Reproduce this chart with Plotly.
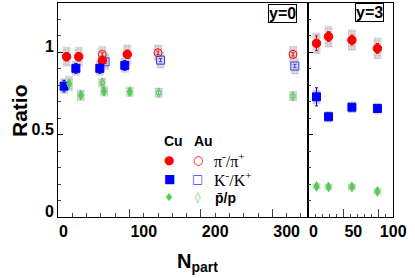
import plotly.graph_objects as go

# ---------------- data ----------------
# y = 0 panel, Cu+Cu (filled)
npart_cu_pi = [12, 29, 62, 97]
npart_cu_k = [8.5, 25, 58.5, 93.5]
npart_cu_p = [15.5, 32, 64.5, 100.5]
cu0_pi = [0.974, 0.974, 0.951, 0.988]
cu0_k = [0.795, 0.903, 0.903, 0.921]
cu0_p = [0.81, 0.74, 0.764, 0.761]
cu0_pi_stat = [0.025, 0.025, 0.025, 0.025]
cu0_k_stat = [0.035, 0.03, 0.03, 0.03]
cu0_p_stat = [0.015, 0.015, 0.015, 0.015]
cu0_pi_sys = [0.06, 0.06, 0.06, 0.06]
cu0_k_sys = [0.048, 0.045, 0.045, 0.045]
cu0_p_sys = [0.045, 0.034, 0.031, 0.031]

# y = 0 panel, Au+Au (open)
npart_au_pi = [62, 140, 329]
npart_au_k = [66, 143.5, 331.5]
npart_au_p = [62, 141, 329]
au0_pi = [0.987, 0.998, 0.988]
au0_k = [0.943, 0.953, 0.917]
au0_p = [0.816, 0.755, 0.734]
au0_pi_stat = [0.01, 0.01, 0.01]
au0_k_stat = [0.01, 0.01, 0.01]
au0_p_stat = [0.01, 0.01, 0.01]
au0_pi_sys = [0.05, 0.05, 0.05]
au0_k_sys = [0.05, 0.05, 0.05]
au0_p_sys = [0.03, 0.03, 0.03]

# y = 3 panel, Cu+Cu
npart_cu3 = [12, 29, 62, 98]
cu3_pi = [1.055, 1.096, 1.075, 1.024]
cu3_k = [0.730, 0.609, 0.667, 0.659]
cu3_p = [0.186, 0.183, 0.183, 0.156]
cu3_pi_stat = [0.045, 0.03, 0.03, 0.03]
cu3_k_stat = [0.055, 0.02, 0.02, 0.02]
cu3_p_stat = [0.01, 0.01, 0.01, 0.01]
cu3_pi_sys = [0.065, 0.065, 0.065, 0.065]
cu3_k_sys = [0.045, 0.035, 0.035, 0.035]
cu3_p_sys = [0.02, 0.02, 0.02, 0.02]

box_width = 11

RED = "#ff0000"
BLUE = "#0000ff"
GREEN = "#4fd04f"

# ---------------- layout geometry ----------------
W, H = 415, 278
ML, MR, MT, MB = 58, 22, 3, 61
split = 250 / (W - ML - MR)


def px2x(p):
    return (p - ML) / (W - ML - MR)


def py2y(p):
    return (H - MB - p) / (H - MT - MB)


fig = go.Figure()


def add_sys(x, y, sys, xa, ya):
    fig.add_trace(go.Bar(
        x=x, y=[2 * s for s in sys], base=[v - s for v, s in zip(y, sys)],
        width=box_width, xaxis=xa, yaxis=ya, showlegend=False,
        marker=dict(color="#dcdcdc", line=dict(width=0),
                    pattern=dict(shape="+", fgcolor="#a4a4a4", bgcolor="#dcdcdc",
                                 size=3, solidity=0.35)),
        hoverinfo="skip"))


def add_pts(x, y, stat, color, symbol, size, xa, ya, lw=1):
    fig.add_trace(go.Scatter(
        x=x, y=y, mode="markers", xaxis=xa, yaxis=ya, showlegend=False,
        marker=dict(color=color, symbol=symbol, size=size, line=dict(color=color, width=lw)),
        error_y=dict(type="data", array=stat, color=color, thickness=1, width=1.5)))


# systematic boxes
for x, y, s in [(npart_cu_pi, cu0_pi, cu0_pi_sys), (npart_cu_k, cu0_k, cu0_k_sys),
                (npart_cu_p, cu0_p, cu0_p_sys), (npart_au_pi, au0_pi, au0_pi_sys),
                (npart_au_k, au0_k, au0_k_sys), (npart_au_p, au0_p, au0_p_sys)]:
    add_sys(x, y, s, "x", "y")
for y, s in [(cu3_pi, cu3_pi_sys), (cu3_k, cu3_k_sys), (cu3_p, cu3_p_sys)]:
    add_sys(npart_cu3, y, s, "x2", "y2")

# points
add_pts(npart_au_pi, au0_pi, au0_pi_stat, RED, "circle-open", 8, "x", "y")
add_pts(npart_au_k, au0_k, au0_k_stat, "#3c3cff", "square-open", 8, "x", "y")
add_pts(npart_au_p, au0_p, au0_p_stat, GREEN, "diamond-tall-open", 7, "x", "y")
add_pts(npart_cu_pi, cu0_pi, cu0_pi_stat, RED, "circle", 8.5, "x", "y")
add_pts(npart_cu_k, cu0_k, cu0_k_stat, BLUE, "square", 8, "x", "y")
add_pts(npart_cu_p, cu0_p, cu0_p_stat, GREEN, "diamond-tall", 7, "x", "y")
add_pts(npart_cu3, cu3_pi, cu3_pi_stat, RED, "circle", 8.5, "x2", "y2")
add_pts(npart_cu3, cu3_k, cu3_k_stat, BLUE, "square", 8, "x2", "y2")
add_pts(npart_cu3, cu3_p, cu3_p_stat, GREEN, "diamond-tall", 7, "x2", "y2")

tickfont = dict(family="Liberation Sans", size=16, color="black", weight="bold")
common_x = dict(showgrid=False, zeroline=False, showline=True, linecolor="black", linewidth=1,
                mirror=True, ticks="inside", ticklen=8, tickcolor="#444", tickwidth=1,
                ticklabelposition="outside right", tickfont=tickfont, automargin=False)
common_y = dict(showgrid=False, zeroline=False, showline=True, linecolor="black", linewidth=1,
                mirror=True, ticks="inside", ticklen=5, tickcolor="black", tickwidth=1,
                range=[0, 1.3], tick0=0, dtick=0.5, automargin=False,
                minor=dict(dtick=0.1, ticks="inside", ticklen=3, tickcolor="#444"))

fig.update_layout(
    width=W, height=H, margin=dict(l=ML, r=MR, t=MT, b=MB, autoexpand=False),
    paper_bgcolor="white", plot_bgcolor="white", barmode="overlay",
    xaxis=dict(domain=[0, split], range=[0, 350], tick0=0, dtick=100,
               minor=dict(dtick=20, ticks="inside", ticklen=4, tickcolor="#444"), **common_x),
    xaxis2=dict(domain=[split, 1], range=[0, 120], tick0=0, dtick=50, anchor="y2",
                minor=dict(dtick=10, ticks="inside", ticklen=3, tickcolor="#444"), **common_x),
    yaxis=dict(anchor="x", ticklabelposition="outside top", tickfont=tickfont,
               ticklabelshift=6, **common_y),
    yaxis2=dict(anchor="x2", matches="y", showticklabels=False, **common_y),
)

ann = []
# axis titles
ann.append(dict(text="<b>Ratio</b>", x=px2x(19), y=py2y(111), xref="paper", yref="paper",
                textangle=-90, showarrow=False, xanchor="center", yanchor="middle",
                font=dict(family="Liberation Sans", size=21, color="black")))
ann.append(dict(text="<b>N<sub>part</sub></b>", x=px2x(175), y=py2y(262), xref="paper", yref="paper",
                showarrow=False, xanchor="left", yanchor="middle",
                font=dict(family="Liberation Sans", size=20, color="black")))
# panel labels
for t, cx, cy in [("y=0", 282.5, 13.3), ("y=3", 369.5, 12.5)]:
    ann.append(dict(text="<b>%s</b>" % t, x=px2x(cx), y=py2y(cy), xref="paper", yref="paper",
                    showarrow=False, xanchor="center", yanchor="middle",
                    bordercolor="black", borderwidth=1, borderpad=0, bgcolor="white",
                    font=dict(family="Liberation Sans", size=16, color="black")))
# legend
ann.append(dict(text="<b>Cu</b>", x=px2x(173.5), y=py2y(141), xref="paper", yref="paper",
                showarrow=False, xanchor="center", yanchor="middle",
                font=dict(family="Liberation Sans", size=14, color="black")))
ann.append(dict(text="<b>Au</b>", x=px2x(203), y=py2y(141), xref="paper", yref="paper",
                showarrow=False, xanchor="center", yanchor="middle",
                font=dict(family="Liberation Sans", size=14, color="black")))
for g, c, cx, cy, sz in [("●", RED, 169, 160, 12), ("○", RED, 197.7, 160, 12),
                          ("■", BLUE, 169, 179, 12), ("□", "#3c3cff", 197.7, 179, 12),
                          ("♦", GREEN, 169, 197.7, 11), ("◊", GREEN, 197.7, 197.7, 11)]:
    ann.append(dict(text=g, x=px2x(cx), y=py2y(cy), xref="paper", yref="paper",
                    showarrow=False, xanchor="center", yanchor="middle",
                    font=dict(family="DejaVu Sans", size=sz, color=c)))
ann.append(dict(text="π<sup>-</sup>/π<sup>+</sup>", x=px2x(212), y=py2y(160), xref="paper", yref="paper",
                showarrow=False, xanchor="left", yanchor="middle",
                font=dict(family="Liberation Serif", size=16, color="black")))
ann.append(dict(text="K<sup>-</sup>/K<sup>+</sup>", x=px2x(212), y=py2y(179), xref="paper", yref="paper",
                showarrow=False, xanchor="left", yanchor="middle",
                font=dict(family="Liberation Serif", size=16, color="black")))
ann.append(dict(text="<b>p\u0304/p</b>", x=px2x(213), y=py2y(197.7), xref="paper", yref="paper",
                showarrow=False, xanchor="left", yanchor="middle",
                font=dict(family="Liberation Sans", size=14, color="black")))
fig.update_layout(annotations=ann)

fig.write_html("out.html", config={"displayModeBar": False},
               post_script="document.body.style.margin='0px';document.body.style.overflow='hidden';")
